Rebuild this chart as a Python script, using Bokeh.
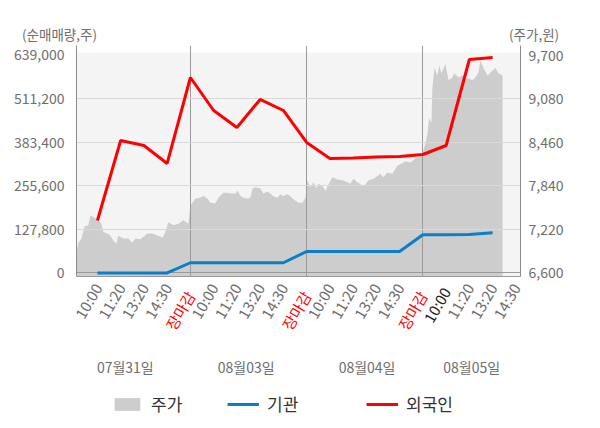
import math
from bokeh.plotting import figure
from bokeh.layouts import column
from bokeh.models import (Range1d, LinearAxis, FixedTicker, NumeralTickFormatter,
                          Legend, LegendItem, Grid, BoxAnnotation, Div)
from bokeh.embed import file_html
from bokeh.resources import INLINE

FONT = "Noto Sans CJK KR"

# ---------------- data ----------------
tick_pos = list(range(1, 20))
tick_labels = ["10:00", "11:20", "13:20", "14:30", "장마감"] * 3 + ["10:00", "11:20", "13:20", "14:30"]
close_ticks = [5, 10, 15]
dark_ticks = [16]

day_names = ["07월31일", "08월03일", "08월04일", "08월05일"]
day_pos = [2.2, 7.4, 12.6, 17.1]

left_ticks = [0, 127800, 255600, 383400, 511200, 639000]
right_ticks = [6600, 7220, 7840, 8460, 9080, 9700]

flow_x = list(range(1, 19))
foreign = [153900, 388400, 373700, 321000, 573000, 476300, 426500, 508600, 476300,
           382500, 335600, 337100, 340000, 341500, 347300, 373700, 625800, 631700]
institution = [0, 0, 0, 0, 30000, 30000, 30000, 30000, 30000,
               63000, 63000, 63000, 63000, 63000, 112000, 112000, 113000, 118000]

price_x = [0.10, 0.18, 0.31, 0.44, 0.61, 0.70, 0.91, 1.04, 1.17, 1.26, 1.43, 1.56, 1.69, 1.82,
           1.90, 2.12, 2.33, 2.50, 2.63, 2.85, 3.15, 3.37, 3.62, 3.80, 3.92, 4.05, 4.27, 4.48,
           4.70, 4.91, 5.00, 5.22, 5.43, 5.56, 5.73, 5.86, 6.08, 6.20, 6.42, 6.59, 6.72, 6.94,
           7.02, 7.15, 7.28, 7.45, 7.58, 7.67, 7.80, 8.01, 8.14, 8.31, 8.44, 8.57, 8.74, 8.87,
           9.00, 9.17, 9.30, 9.43, 9.65, 9.82, 9.95, 10.03, 10.16, 10.29, 10.42, 10.51, 10.68,
           10.81, 10.94, 11.11, 11.33, 11.54, 11.76, 11.88, 12.01, 12.19, 12.40, 12.53, 12.66,
           12.88, 13.18, 13.30, 13.48, 13.69, 13.91, 14.12, 14.25, 14.47, 14.68, 14.81, 14.98,
           15.11, 15.20, 15.24, 15.28, 15.37, 15.41, 15.50, 15.62, 15.71, 15.80, 15.89, 15.97,
           16.10, 16.27, 16.36, 16.53, 16.70, 16.83, 16.96, 17.13, 17.26, 17.39, 17.48, 17.61,
           17.78, 17.91, 18.12, 18.25, 18.43]
price = [6890, 7030, 7090, 7260, 7280, 7420, 7380, 7350, 7300, 7180, 7160, 7130, 7060, 7020,
         7130, 7090, 7090, 7030, 7090, 7080, 7160, 7160, 7130, 7100, 7180, 7320, 7280, 7300,
         7350, 7300, 7560, 7660, 7670, 7700, 7660, 7600, 7590, 7670, 7740, 7740, 7730, 7730,
         7770, 7700, 7670, 7660, 7670, 7800, 7820, 7800, 7730, 7760, 7730, 7690, 7670, 7720,
         7690, 7720, 7690, 7650, 7600, 7600, 7670, 7920, 7820, 7890, 7800, 7870, 7840,
         7770, 7860, 7960, 7930, 7920, 7890, 7870, 7940, 7890, 7840, 7860, 7920,
         7940, 8010, 7960, 8030, 8010, 8130, 8160, 8190, 8170, 8230, 8240, 8300,
         8440, 8580, 8730, 8800, 8740, 9240, 9520, 9410, 9550, 9440, 9510, 9580,
         9340, 9380, 9440, 9380, 9410, 9370, 9370, 9340, 9380, 9450, 9620, 9510,
         9410, 9450, 9520, 9440, 9410]

legend_names = ["주가", "기관", "외국인"]
unit_left = "(순매매량,주)"
unit_right = "(주가,원)"

# ---------------- layout constants ----------------
W = 600
TOP_H = 45            # caption strip
FRAME_H = 231
MAIN_H = FRAME_H + 110
LEG_H = 428 - TOP_H - MAIN_H
BL, BR = 76, 80
XL, XR = 0.1, 19.2
YL0, YL1 = -10300, 666800
YR0, YR1 = 6550, 9835
GREY = "#6e6e6e"

# estimated extents of the rotated tick-label panels (px)
GREY_PANEL = 50       # standoff 8 + rotated "10:00"
DATE_STANDOFF = 15

# ---------------- caption strip ----------------
cap_style = ("position:absolute;top:24px;font-family:'Noto Sans CJK KR';"
             "font-size:13.5px;color:%s;white-space:nowrap;line-height:20px;" % GREY)
top = Div(text=('<div style="position:relative;width:%dpx;height:%dpx;">'
                '<span style="%sleft:22px;">%s</span>'
                '<span style="%sleft:509px;">%s</span></div>')
               % (W, TOP_H, cap_style, unit_left, cap_style, unit_right),
          width=W, height=TOP_H, margin=0)

# ---------------- main chart ----------------
p = figure(width=W, height=MAIN_H, x_range=Range1d(XL, XR), y_range=Range1d(YL0, YL1),
           output_backend="svg", toolbar_location=None,
           min_border_left=BL, min_border_right=BR, min_border_top=0,
           min_border_bottom=MAIN_H - FRAME_H,
           background_fill_color="white", border_fill_color="white", outline_line_color=None)
p.extra_y_ranges = {"price": Range1d(YR0, YR1)}

p.add_layout(BoxAnnotation(top=646300, fill_color="#f4f4f4", fill_alpha=1.0,
                           line_color=None, level="image"))

area = p.varea(x=price_x, y1=YR0, y2=price, y_range_name="price",
               fill_color="#cdcdcd", level="underlay")
p.line(flow_x, institution, line_color="#0a7ec8", line_width=3, level="annotation")
p.line(flow_x, foreign, line_color="#ff0000", line_width=3, level="annotation")

p.xgrid.ticker = FixedTicker(ticks=close_ticks)
p.xgrid.grid_line_color = "#9a9a9a"
p.xgrid.level = "glyph"
p.ygrid.ticker = FixedTicker(ticks=left_ticks[1:-1])
p.ygrid.grid_line_color = "#d9d9d9"
p.ygrid.level = "glyph"
p.add_layout(Grid(dimension=1, ticker=FixedTicker(ticks=[0]), grid_line_color="#9a9a9a", level="glyph"))

def style_axis(ax, size="14px", color=GREY):
    ax.major_tick_line_color = None
    ax.minor_tick_line_color = None
    ax.major_tick_out = 0
    ax.major_tick_in = 0
    ax.major_label_text_font = FONT
    ax.major_label_text_font_size = size
    ax.major_label_text_color = color

ya = p.yaxis[0]
ya.ticker = FixedTicker(ticks=left_ticks)
ya.formatter = NumeralTickFormatter(format="0,0")
style_axis(ya)
ya.axis_line_color = "#8c8c8c"
ya.major_label_standoff = 12

ra = LinearAxis(y_range_name="price", ticker=FixedTicker(ticks=right_ticks),
                formatter=NumeralTickFormatter(format="0,0"))
style_axis(ra)
ra.axis_line_color = "#8c8c8c"
ra.major_label_standoff = 8
p.add_layout(ra, "right")

# grey time labels on the main axis
grey_ticks = [t for t in tick_pos if t not in close_ticks and t not in dark_ticks]
xa = p.xaxis[0]
xa.ticker = FixedTicker(ticks=grey_ticks)
xa.major_label_overrides = {t: tick_labels[tick_pos.index(t)] for t in grey_ticks}
style_axis(xa, size="15px")
xa.axis_line_color = "#9a9a9a"
xa.major_label_orientation = math.pi / 3
xa.major_label_standoff = 8

# dark '10:00' and red '장마감' labels on extra axes pulled back onto the same row
for ticks, color, standoff in [(dark_ticks, "#222222", 8 - GREY_PANEL),
                               (close_ticks, "#ff0000", 8 - GREY_PANEL)]:
    ax = LinearAxis(ticker=FixedTicker(ticks=ticks))
    ax.major_label_overrides = {t: tick_labels[tick_pos.index(t)] for t in ticks}
    style_axis(ax, size="15px", color=color)
    ax.axis_line_color = None
    ax.major_label_orientation = math.pi / 3
    ax.major_label_standoff = standoff
    p.add_layout(ax, "below")

# date labels
da = LinearAxis(ticker=FixedTicker(ticks=day_pos))
da.major_label_overrides = {pos: name for pos, name in zip(day_pos, day_names)}
style_axis(da, size="14px")
da.axis_line_color = None
da.major_label_standoff = DATE_STANDOFF
p.add_layout(da, "below")

# ---------------- legend strip ----------------
p2 = figure(width=W, height=LEG_H, x_range=p.x_range, y_range=Range1d(0, 1),
            output_backend="svg", toolbar_location=None, x_axis_location=None,
            y_axis_location=None, min_border_left=BL, min_border_right=BR,
            min_border_top=0, min_border_bottom=0, outline_line_color=None)
p2.grid.visible = False
off = [XL - 100, XL - 99]      # legend proxies kept outside the visible range
g_area = p2.varea(x=off, y1=[0, 0], y2=[1, 1], fill_color="#cdcdcd")
g_blue = p2.line(off, [0, 0], line_color="#0a7ec8", line_width=3)
g_red = p2.line(off, [0, 0], line_color="#ff0000", line_width=3)

for name, rend, lx in zip(legend_names, [g_area, g_blue, g_red], [35, 151, 290]):
    lg = Legend(items=[LegendItem(label=name, renderers=[rend])],
                orientation="horizontal", location=(lx, 12),
                label_text_font=FONT, label_text_font_size="17px", label_text_color="#333333",
                glyph_width=32, glyph_height=16, label_standoff=8,
                padding=4, margin=0, border_line_color=None, background_fill_alpha=0)
    p2.add_layout(lg)

layout = column(top, p, p2, spacing=0)
open("out.html", "w").write(file_html(layout, INLINE))
